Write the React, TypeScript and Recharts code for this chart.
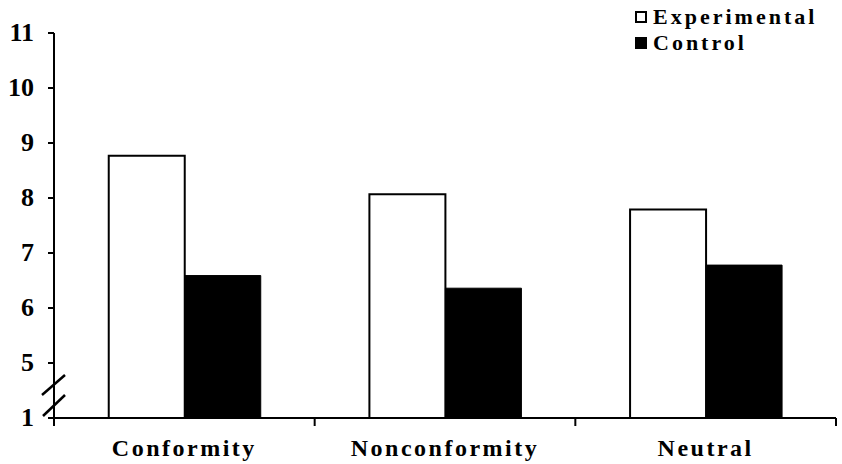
import { Bar, BarChart, Legend, XAxis, YAxis } from "recharts";

const categories = ["Conformity", "Nonconformity", "Neutral"];
const experimental = [8.77, 8.07, 7.79];
const control = [6.59, 6.36, 6.78];
// the axis is broken: the lowest tick sits where 4 would be but reads "1"
const yTicks = [4, 5, 6, 7, 8, 9, 10, 11];
const yTickLabels = ["1", "5", "6", "7", "8", "9", "10", "11"];
const seriesNames = ["Experimental", "Control"];

const data = categories.map((name, i) => ({
  name,
  experimental: experimental[i],
  control: control[i],
}));

const WIDTH = 842;
const HEIGHT = 464;
const MARGIN = { top: 33, right: 6, bottom: 0, left: 0 };
const Y_AXIS_W = 54;
const X_AXIS_H = 46;
const AXIS_Y = HEIGHT - MARGIN.bottom - X_AXIS_H;
const BAND = (WIDTH - MARGIN.right - MARGIN.left - Y_AXIS_W) / categories.length;
const FONT = '"Liberation Serif", "Times New Roman", serif';

function YTick(props: any) {
  const { x, y, payload } = props;
  const idx = yTicks.indexOf(payload.value);
  const axisX = x + 20;
  return (
    <g>
      <text
        x={x}
        y={y}
        dy="0.3em"
        textAnchor="end"
        fontFamily={FONT}
        fontWeight="bold"
        fontSize={26}
        fill="#000"
      >
        {yTickLabels[idx]}
      </text>
      {idx === 0 && (
        <g stroke="#000" strokeWidth={2.5}>
          <line x1={axisX - 12} y1={y - 23} x2={axisX + 11} y2={y - 43} />
          <line x1={axisX - 11} y1={y - 2} x2={axisX + 11} y2={y - 23} />
        </g>
      )}
    </g>
  );
}

function XTick(props: any) {
  const { x, payload, index } = props;
  const left = x - BAND / 2;
  const right = x + BAND / 2;
  return (
    <g>
      <line x1={left} y1={AXIS_Y} x2={left} y2={AXIS_Y + 8} stroke="#000" strokeWidth={2} />
      {index === categories.length - 1 && (
        <line x1={right} y1={AXIS_Y} x2={right} y2={AXIS_Y + 8} stroke="#000" strokeWidth={2} />
      )}
      <text
        x={x}
        y={AXIS_Y + 38}
        textAnchor="middle"
        fontFamily={FONT}
        fontWeight="bold"
        fontSize={24}
        letterSpacing={2.5}
        fill="#000"
      >
        {payload.value}
      </text>
    </g>
  );
}

function LegendBox(props: any) {
  const items = [...(props.payload || [])].sort(
    (a: any, b: any) => seriesNames.indexOf(a.value) - seriesNames.indexOf(b.value)
  );
  return (
    <div
      style={{
        fontFamily: FONT,
        fontWeight: "bold",
        fontSize: 22,
        letterSpacing: 3,
        lineHeight: "26px",
        color: "#000",
      }}
    >
      {items.map((entry: any) => (
        <div key={entry.value} style={{ display: "flex", alignItems: "center" }}>
          <svg width={12} height={12} style={{ marginRight: 6 }}>
            <rect
              x={1}
              y={1}
              width={10}
              height={10}
              fill={entry.color}
              stroke="#000"
              strokeWidth={2}
            />
          </svg>
          {entry.value}
        </div>
      ))}
    </div>
  );
}

export default function App() {
  return (
    <div style={{ position: "absolute", left: 0, top: 0, width: WIDTH, height: HEIGHT, background: "#fff" }}>
      <BarChart
        width={WIDTH}
        height={HEIGHT}
        data={data}
        margin={MARGIN}
        barCategoryGap="21%"
        barGap={0}
      >
        <XAxis
          dataKey="name"
          height={X_AXIS_H}
          axisLine={{ stroke: "#000", strokeWidth: 2 }}
          tickLine={false}
          tick={<XTick />}
          interval={0}
        />
        <YAxis
          type="number"
          domain={[4, 11]}
          ticks={yTicks}
          width={Y_AXIS_W}
          axisLine={{ stroke: "#000", strokeWidth: 2 }}
          tickLine={{ stroke: "#000", strokeWidth: 2 }}
          tickSize={6}
          tickMargin={14}
          tick={<YTick />}
          interval={0}
        />
        <Legend
          layout="vertical"
          align="center"
          verticalAlign="middle"
          content={<LegendBox />}
          wrapperStyle={{ left: 635, top: 4, width: 200, height: 56 }}
        />
        <Bar
          dataKey="experimental"
          name={seriesNames[0]}
          fill="#fff"
          stroke="#000"
          strokeWidth={2}
          isAnimationActive={false}
        />
        <Bar
          dataKey="control"
          name={seriesNames[1]}
          fill="#000"
          stroke="#000"
          strokeWidth={1}
          isAnimationActive={false}
        />
      </BarChart>
    </div>
  );
}
